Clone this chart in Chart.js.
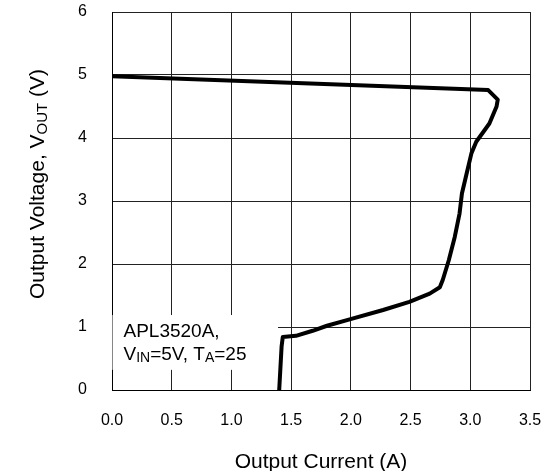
<!DOCTYPE html>
<html>
<head>
<meta charset="utf-8">
<script src="https://cdn.jsdelivr.net/npm/chart.js@4.4.1/dist/chart.umd.min.js"></script>
<style>
  html, body { margin: 0; padding: 0; background: #fff; }
  #wrap { width: 549px; height: 471px; position: relative; }
</style>
</head>
<body>
<div id="wrap"><canvas id="vi-curve"></canvas></div>
<script>
// output current (A) vs output voltage (V)
let current = [0.00, 3.15, 3.23, 3.22, 3.16, 3.05, 3.01, 2.97, 2.93, 2.91, 2.87, 2.82,
               2.77, 2.745, 2.66, 2.49, 2.27, 1.99, 1.80, 1.68, 1.54, 1.43, 1.42, 1.40];
let voltage = [4.98, 4.76, 4.61, 4.50, 4.23, 3.94, 3.76, 3.44, 3.12, 2.80, 2.43, 2.06,
               1.75, 1.63, 1.53, 1.40, 1.27, 1.12, 1.02, 0.94, 0.86, 0.84, 0.69, 0.00];

let xTicks = [0.0, 0.5, 1.0, 1.5, 2.0, 2.5, 3.0, 3.5];
let yTicks = [0, 1, 2, 3, 4, 5, 6];

// legend box corners in data units
let noteX = [0.004, 1.39];
let noteY = [0.32, 1.19];

const FONT = "'Liberation Sans', Arial, sans-serif";

let points = current.map((c, i) => ({ x: c, y: voltage[i] }));

// text with subscript parts: [[text, isSub], ...]
function drawRich(ctx, parts, x, y, size, subSize) {
  let cx = x;
  parts.forEach(p => {
    ctx.font = (p[1] ? subSize : size) + "px " + FONT;
    ctx.fillText(p[0], cx, p[1] ? y + size * 0.12 : y);
    cx += ctx.measureText(p[0]).width;
  });
  return cx - x;
}
function richWidth(ctx, parts, size, subSize) {
  let w = 0;
  parts.forEach(p => {
    ctx.font = (p[1] ? subSize : size) + "px " + FONT;
    w += ctx.measureText(p[0]).width;
  });
  return w;
}

let decor = {
  id: "decor",
  beforeDatasetsDraw(chart) {
    let ctx = chart.ctx, xs = chart.scales.x, ys = chart.scales.y;
    let l = xs.getPixelForValue(noteX[0]), r = xs.getPixelForValue(noteX[1]);
    let t = ys.getPixelForValue(noteY[1]), b = ys.getPixelForValue(noteY[0]);
    ctx.save();
    ctx.fillStyle = "#fff";
    ctx.fillRect(l, t, r - l, b - t);
    ctx.fillStyle = "#000";
    ctx.textBaseline = "alphabetic";
    ctx.textAlign = "left";
    ctx.font = "19px " + FONT;
    ctx.fillText("APL3520A,", l + 11, t + 22);
    drawRich(ctx, [["V", 0], ["IN", 1], ["=5V, T", 0], ["A", 1], ["=25", 0]], l + 11, t + 45, 19, 14);
    ctx.restore();
  },
  afterDraw(chart) {
    let ctx = chart.ctx, area = chart.chartArea;
    ctx.save();
    ctx.fillStyle = "#000";
    ctx.textBaseline = "alphabetic";
    ctx.textAlign = "left";
    // x title
    let xt = [["Output Current (A)", 0]];
    let w = richWidth(ctx, xt, 21, 15);
    drawRich(ctx, xt, (area.left + area.right) / 2 - w / 2, 468, 21, 15);
    // y title
    let yt = [["Output Voltage, V", 0], ["OUT", 1], [" (V)", 0]];
    w = richWidth(ctx, yt, 21, 15);
    ctx.translate(44, 184);
    ctx.rotate(-Math.PI / 2);
    drawRich(ctx, yt, -w / 2, 0, 21, 15);
    ctx.restore();
  }
};

let chart = new Chart(document.getElementById("vi-curve"), {
  type: "scatter",
  data: {
    datasets: [{
      data: points,
      showLine: true,
      borderColor: "#000",
      borderWidth: 4,
      pointRadius: 0,
      tension: 0,
      borderJoinStyle: "round",
      borderCapStyle: "butt"
    }]
  },
  options: {
    responsive: true,
    maintainAspectRatio: false,
    animation: false,
    layout: { padding: { top: 12, right: 19, left: 0, bottom: 0 } },
    plugins: { legend: { display: false }, tooltip: { enabled: false } },
    scales: {
      x: {
        type: "linear",
        min: xTicks[0],
        max: xTicks[xTicks.length - 1],
        afterBuildTicks: s => { s.ticks = xTicks.map(v => ({ value: v })); },
        afterFit: s => { s.height = 81; s.paddingLeft = 0; s.paddingRight = 0; },
        grid: { color: "#222", lineWidth: 1, drawTicks: false },
        border: { color: "#000", width: 1 },
        ticks: {
          padding: 21,
          color: "#000",
          font: { family: FONT, size: 16 },
          callback: v => v.toFixed(1)
        }
      },
      y: {
        type: "linear",
        min: yTicks[0],
        max: yTicks[yTicks.length - 1],
        afterBuildTicks: s => { s.ticks = yTicks.map(v => ({ value: v })); },
        afterFit: s => { s.width = 112; s.paddingTop = 0; s.paddingBottom = 0; },
        grid: { color: "#222", lineWidth: 1, drawTicks: false },
        border: { color: "#000", width: 1 },
        ticks: {
          padding: 25,
          color: "#000",
          font: { family: FONT, size: 16 },
          callback: v => String(v)
        }
      }
    }
  },
  plugins: [decor]
});
</script>
</body>
</html>
